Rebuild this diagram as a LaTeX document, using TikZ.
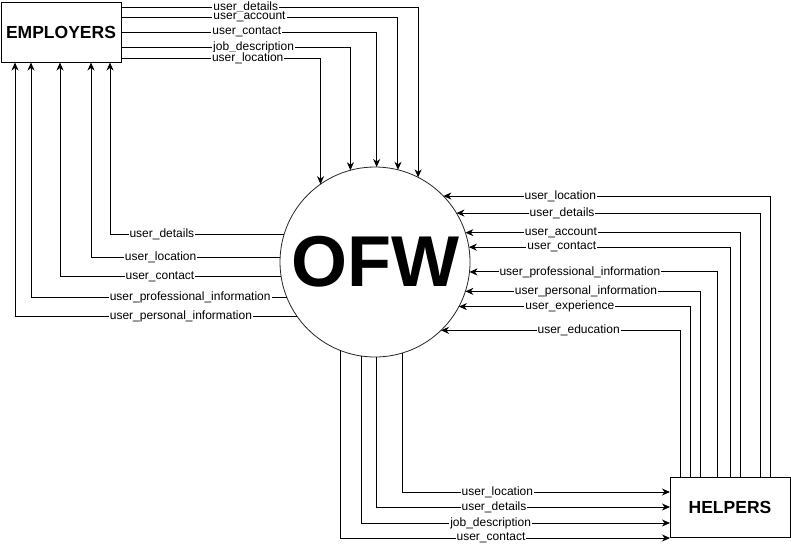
\documentclass[tikz,border=0pt]{standalone}
\usepackage{fontspec}
\setmainfont{Liberation Sans}
\usetikzlibrary{arrows.meta}

\tikzset{
  ent/.style={draw, line width=1pt, minimum width=120pt, minimum height=60pt, inner sep=0pt, outer sep=0pt, font=\fontsize{17.5}{18}\selectfont\bfseries},
  proc/.style={circle, draw=black!85, line width=.8pt, minimum size=190pt, inner sep=0pt, outer sep=0pt, font=\fontsize{72}{72}\selectfont\bfseries},
  flow/.style={line width=1pt, -{Stealth[length=8pt,width=7pt,inset=2.5pt]}},
  lab/.style={fill=white, inner xsep=1pt, inner ysep=0pt, font=\fontsize{12}{12}\selectfont}
}

\begin{document}
\begin{tikzpicture}[x=1pt,y=-1pt]
\fill[white] (0,0) rectangle (791,547);
\node[ent] (emp) at (61,32.5) {EMPLOYERS};
\node[ent] (help) at (730,507) {HELPERS};
\node[proc] (ofw) at (375,262) {OFW};
% employers -> ofw
\foreach \yy/\aa/\pp/\txt in {7/63/.21/user\_details, 17/76/.232/user\_account, 32/89/.246/user\_contact, 47/105/.289/job\_description, 58/125/.3175/user\_location}
  \draw[flow] (emp.east |- 0,\yy) -| node[lab,pos=\pp] {\txt} (ofw.\aa);
% ofw -> employers
\foreach \aa/\xx/\pp/\txt in {163/110/.351/user\_details, 177/91/.316/user\_location, 189/60/.274/user\_contact, 202/31/.189/user\_professional\_information, 215/15/.206/user\_personal\_information}
  \draw[flow] (ofw.\aa) -| node[lab,pos=\pp] {\txt} (emp.south -| \xx,0);
% helpers -> ofw
%\foreach \xx in {680,690,...,770}
\foreach \xx/\aa/\pp/\txt in {770/44/.821/user\_location, 760/31/.826/user\_details, 740/18/.826/user\_account, 730/9/.822/user\_contact, 717/354/.777/user\_professional\_information, 700/342/.743/user\_personal\_information, 690/332/.76/user\_experience, 680/314/.712/user\_education}
  \draw[flow] (help.north -| \xx,0) |- node[lab,pos=\pp] {\txt} (ofw.\aa);
% ofw -> helpers
\foreach \aa/\yy/\pp/\txt in {287/492/.677/user\_location, 271/507/.70/user\_details, 262/523/.709/job\_description, 249/538/.728/user\_contact}
  \draw[flow] (ofw.\aa) |- node[lab,pos=\pp] {\txt} (help.west |- 0,\yy);
\end{tikzpicture}
\end{document}
